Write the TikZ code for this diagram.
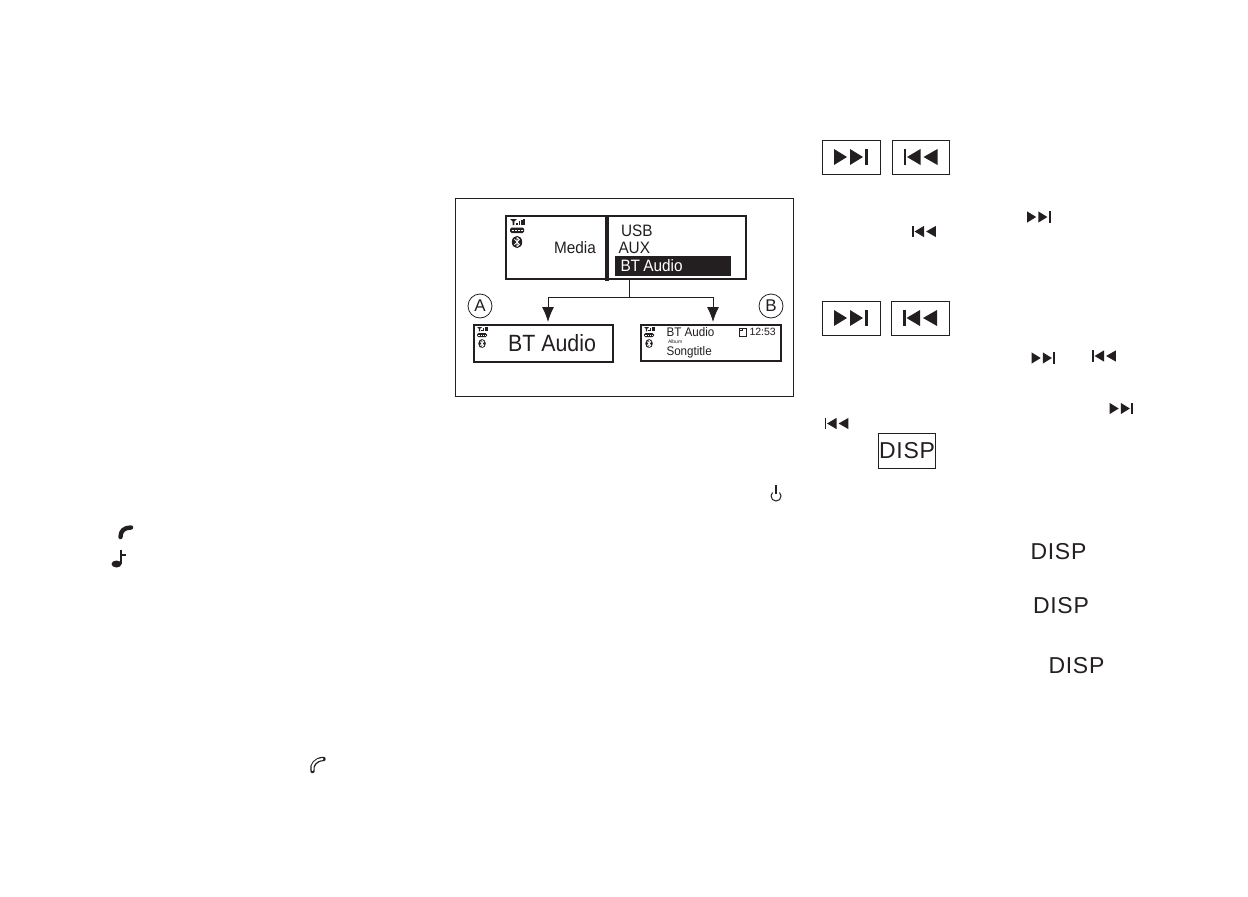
\documentclass[tikz,border=0pt]{standalone}
\usepackage{fontspec}
\setmainfont{Liberation Sans}
\usetikzlibrary{arrows.meta}
\usetikzlibrary{positioning}
\definecolor{ink}{HTML}{231F20}
\tikzset{>={Latex[length=15pt,width=12pt]}, x=1pt, y=-1pt, every node/.style={inner sep=0pt, outer sep=0pt, text=ink}}
\tikzstyle{frame} = [draw=ink, line width=1pt, rectangle, minimum width=338pt, minimum height=198pt]
\tikzstyle{screen} = [draw=ink, line width=2.2pt, rectangle]
\tikzstyle{button} = [draw=ink, line width=1pt, rectangle, minimum width=58pt, minimum height=34pt]
\tikzstyle{callout} = [draw=ink, line width=.8pt, circle, minimum size=24pt, font=\fontsize{17}{17}\selectfont]
\tikzstyle{menu} = [anchor=west, font=\fontsize{16.5}{16.5}\selectfont\addfontfeature{FakeStretch=.93}]
\tikzstyle{track} = [anchor=west, font=\fontsize{12.5}{12.5}\selectfont\addfontfeature{FakeStretch=.93}]
\tikzstyle{disp} = [font=\fontsize{23}{23}\selectfont\addfontfeature{LetterSpace=3}]
\tikzset{
  nextglyph/.pic={
    \fill [ink] (-17,-8) -- (-4,0) -- (-17,8) -- cycle;
    \fill [ink] (-1,-8) -- (12,0) -- (-1,8) -- cycle;
    \fill [ink] (14,-8) rectangle (17,8);
  },
  prevglyph/.pic={
    \fill [ink] (-17,-8) rectangle (-14.5,8);
    \fill [ink] (-13.5,0) -- (0,-8) -- (0,8) -- cycle;
    \fill [ink] (3,0) -- (17,-8) -- (17,8) -- cycle;
  },
  % signal, battery and bluetooth marks of a screen
  status/.pic={
    \fill [ink] (0,0) -- (7,0) -- (4.4,2.5) -- (4.4,6) -- (2.6,6) -- (2.6,2.5) -- cycle;
    \foreach \i/\t in {6/3.5, 8.5/2, 11/0.5, 13/0}
      \fill [ink] (\i,\t) rectangle ++(1.8,6-\t);
    \fill [ink, rounded corners=1.5pt] (0,8.5) rectangle (14,14);
    \foreach \i in {3,6,9,12}
      \fill [white] (\i-1,10.7) rectangle ++(1.5,1.2);
    \fill [ink] (7,23) ellipse [x radius=5.2, y radius=6.2];
    \draw [white, line width=.8pt] (4.4,20.2) -- (9.4,25.4) -- (7,27.6) -- (7,18.4) -- (9.4,20.6) -- (4.4,25.8);
  },
}
\begin{document}
\begin{tikzpicture}
    \useasboundingbox (0,0) rectangle (1248,897);
    \fill [white] (0,0) rectangle (1248,897);

    \node [frame] (frame) at (624,297) {};
    \node [screen, minimum width=240pt, minimum height=63pt] (media) at (626,247.5) {};
    \node [screen, minimum width=139pt, minimum height=37pt] (screen_a) at (543.5,343.5) {};
    \node [screen, minimum width=140pt, minimum height=36pt] (screen_b) at (711,343) {};
    \coordinate (divider_top) at (607,216);
    \coordinate (divider_bot) at (607,281);
    \draw [ink, line width=3.5pt] (divider_top) -- (divider_bot);

    \node [menu] (media_txt) at (554,248) {Media};
    \node [menu] (usb) at (621,231) {USB};
    \node [menu] (aux) at (618.5,248) {AUX};
    \node [anchor=west, fill=ink, minimum width=116pt, minimum height=20pt, text width=111pt, align=left] (bt) at (615,265.5) {\hspace*{3pt}\fontsize{16.5}{16.5}\selectfont\addfontfeature{FakeStretch=.93}\color{white}BT Audio};

    \node [anchor=west, font=\fontsize{23.5}{23.5}\selectfont\addfontfeature{FakeStretch=.91}] (bt_big) at (508,343) {BT Audio};
    \node [track] (bt_small) at (666.5,332) {BT Audio};
    \node [anchor=west, font=\fontsize{5}{5}\selectfont] (album) at (668,342) {Album};
    \node [track] (song) at (666.5,352) {Songtitle};
    \node [draw=ink, line width=.7pt, minimum width=7pt, minimum height=8pt] (card) at (743,332) {};
    \draw [ink, line width=.6pt] (card.north west) ++(2.5,0) -- ++(0,2.5) -- ++(-2.5,0);
    \node [anchor=west, font=\fontsize{10.5}{10.5}\selectfont] (clock) at (749.5,332) {12:53};

    \pic at (510,219) {status};
    \pic [scale=.72] at (477,327) {status};
    \pic [scale=.72] at (644,327) {status};

    \node [callout] (a) at (480,306) {A};
    \node [callout] (b) at (771,306) {B};

    \coordinate (stem_top) at (629,279);
    \coordinate (split) at (629,297);
    \coordinate (tip_a) at (548,322);
    \coordinate (tip_b) at (713,322);
    \draw [ink, line width=1pt] (stem_top) -- (split);
    \draw [ink, line width=1pt, ->] (split) -| (tip_a);
    \draw [ink, line width=1pt, ->] (split) -| (tip_b);

    \node [button] (next_one) at (851,157) {};
    \node [button, minimum width=57pt] (prev_one) at (920.5,157) {};
    \node [button] (next_two) at (851,318) {};
    \node [button] (prev_two) at (920,318) {};
    \pic at (next_one) {nextglyph};
    \pic at (prev_one) {prevglyph};
    \pic at (next_two) {nextglyph};
    \pic at (prev_two) {prevglyph};

    \pic [scale=.7] at (1039,217) {nextglyph};
    \pic [scale=.7] at (924,231.5) {prevglyph};
    \pic [scale=.7] at (1043.5,358) {nextglyph};
    \pic [scale=.7] at (1104,356) {prevglyph};
    \pic [scale=.7] at (1121.5,408.5) {nextglyph};
    \pic [scale=.7] at (836.5,423.5) {prevglyph};

    \node [draw=ink, line width=1pt, minimum width=57pt, minimum height=35pt, disp] (disp_box) at (906.5,450.5) {\hspace*{1pt}DISP};
    \node [disp] (disp_a) at (1058.5,552) {DISP};
    \node [disp] (disp_b) at (1061,606) {DISP};
    \node [disp] (disp_c) at (1076.5,665.5) {DISP};

    % power, phone and note marks
    \draw [ink, line width=1pt] (772.5,492.5) arc [start angle=225, end angle=-45, radius=5];
    \draw [ink, line width=1.1pt] (776,485) -- (776,494);
    \draw [ink, line width=4.4pt, line cap=round] (120.5,537) .. controls (120.5,531) and (124,527.5) .. (131,527.5);
    \fill [ink] (116.5,564) ellipse [x radius=5, y radius=3.5];
    \draw [ink, line width=1.2pt] (121,564) -- (121,549.5);
    \draw [ink, line width=1.2pt] (121,555) -- (126,555);
    \draw [ink, line width=4.4pt, line cap=round] (312.5,771) .. controls (311,765) and (316,759) .. (323.5,759);
    \draw [white, line width=2pt, line cap=round] (312.5,770) .. controls (311,765) and (316,759) .. (322.5,759);
\end{tikzpicture}
\end{document}
